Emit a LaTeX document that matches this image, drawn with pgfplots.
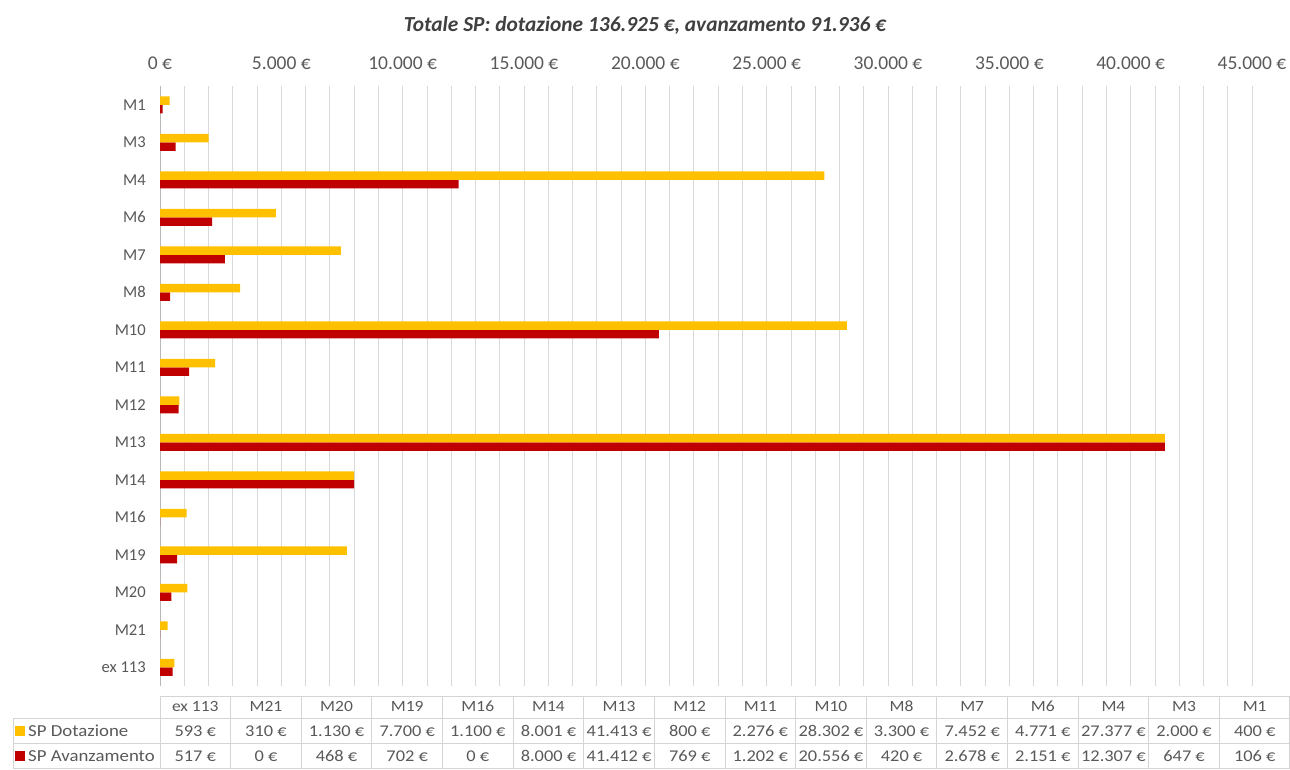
\documentclass[border=0pt]{standalone}
\usepackage{fontspec}
\setmainfont{Carlito}
\newfontfamily\tblfont[FakeStretch=1.12]{Carlito}
\usepackage{pgfplots}
\pgfplotsset{compat=1.18}

\definecolor{dotaz}{HTML}{FFC000}
\definecolor{avanz}{HTML}{C00000}
\definecolor{txt}{HTML}{595959}
\definecolor{titc}{HTML}{404040}
\definecolor{gridc}{HTML}{D9D9D9}
\definecolor{tblc}{HTML}{D4D4D4}

\begin{document}
\begin{tikzpicture}[x=1pt,y=1pt]
\path[use as bounding box] (0,0) rectangle (1290,-769);

\begin{axis}[
    at={(160pt,-686pt)}, anchor=south west,
    scale only axis, width=1092pt, height=600pt,
    xmin=0, xmax=45000, ymin=-0.5, ymax=15.5,
    xbar=0pt, bar width=8.5pt,
    axis x line*=top, axis y line*=left,
    x axis line style={draw=none},
    y axis line style={draw=gridc!85!black, line width=0.8pt},
    scaled x ticks=false,
    xtick={0,5000,...,45000},
    xticklabels={0 €,5.000 €,10.000 €,15.000 €,20.000 €,25.000 €,30.000 €,35.000 €,40.000 €,45.000 €},
    minor x tick num=4,
    xmajorgrids, xminorgrids,
    major grid style={gridc, line width=0.8pt},
    minor grid style={gridc, line width=0.8pt},
    major tick length=0pt, minor tick length=0pt,
    ytick={0,...,15},
    yticklabels={ex 113,M21,M20,M19,M16,M14,M13,M12,M11,M10,M8,M7,M6,M4,M3,M1},
    xticklabel style={font=\fontsize{19.5}{22}\selectfont, text=txt, anchor=base, yshift=17pt},
    yticklabel style={font=\fontsize{16.6}{19}\selectfont, text=txt, anchor=east, inner sep=0pt, xshift=-14pt},
]
% SP Avanzamento (lower bar)
\addplot[fill=avanz, draw=none] coordinates {
    (517,0) (0,1) (468,2) (702,3) (0,4) (8000,5) (41412,6) (769,7)
    (1202,8) (20556,9) (420,10) (2678,11) (2151,12) (12307,13) (647,14) (106,15)
};
% SP Dotazione (upper bar)
\addplot[fill=dotaz, draw=none] coordinates {
    (593,0) (310,1) (1130,2) (7700,3) (1100,4) (8001,5) (41413,6) (800,7)
    (2276,8) (28302,9) (3300,10) (7452,11) (4771,12) (27377,13) (2000,14) (400,15)
};
\end{axis}

\node[font=\fontsize{21.4}{24}\selectfont\bfseries\itshape, text=titc] at (645,-25)
    {Totale SP: dotazione 136.925 €, avanzamento 91.936 €};

% data table under the chart
\draw[tblc, line width=0.8pt] (160,-696) -- (1289.5,-696);
\foreach \yy in {-718,-743,-768} \draw[tblc, line width=0.8pt] (13,\yy) -- (1289.5,\yy);
\draw[tblc, line width=0.8pt] (13,-718) -- (13,-768);
\foreach \k in {0,...,15} \draw[tblc, line width=0.8pt] ({160+70.625*\k},-696) -- ({160+70.625*\k},-768);
\draw[tblc, line width=0.8pt] (1289.5,-696) -- (1289.5,-768);

\begin{scope}[every node/.style={font=\tblfont\fontsize{16.4}{19}\selectfont, text=txt, inner sep=0pt}]
\foreach \n [count=\i from 0] in {ex 113,M21,M20,M19,M16,M14,M13,M12,M11,M10,M8,M7,M6,M4,M3,M1}
    \node[font=\tblfont\fontsize{15.6}{19}\selectfont] at ({160+70.625*(\i+0.5)},-706) {\n};
\foreach \v [count=\i from 0] in {593 €,310 €,1.130 €,7.700 €,1.100 €,8.001 €,41.413 €,800 €,2.276 €,28.302 €,3.300 €,7.452 €,4.771 €,27.377 €,2.000 €,400 €}
    \node at ({160+70.625*(\i+0.5)},-731) {\v};
\foreach \v [count=\i from 0] in {517 €,0 €,468 €,702 €,0 €,8.000 €,41.412 €,769 €,1.202 €,20.556 €,420 €,2.678 €,2.151 €,12.307 €,647 €,106 €}
    \node at ({160+70.625*(\i+0.5)},-756) {\v};
\fill[dotaz] (15,-726) rectangle (25,-736);
\fill[avanz] (15,-751) rectangle (25,-761);
\node[anchor=west, font=\tblfont\fontsize{16.8}{21}\selectfont] at (28,-731) {SP Dotazione};
\node[anchor=west, font=\tblfont\fontsize{16.8}{21}\selectfont] at (28,-756) {SP Avanzamento};
\end{scope}
\end{tikzpicture}
\end{document}
